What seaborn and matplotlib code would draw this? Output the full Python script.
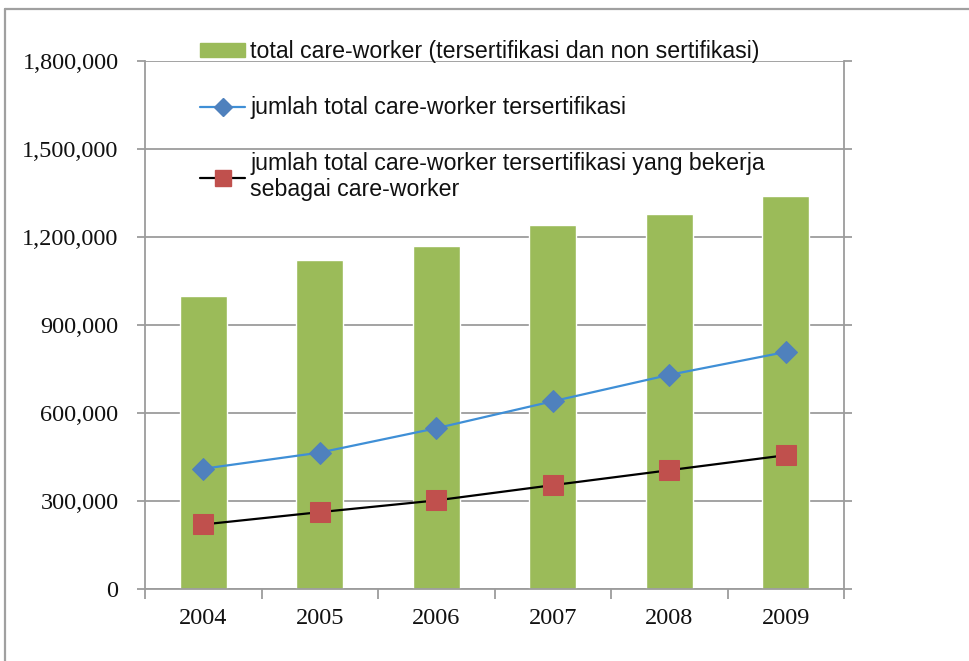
import numpy as np
import pandas as pd
import matplotlib
matplotlib.use("Agg")
import matplotlib.pyplot as plt
from matplotlib.lines import Line2D
from matplotlib.patches import Patch
import seaborn as sns

years = ["2004", "2005", "2006", "2007", "2008", "2009"]
total_workers = [1000000, 1120000, 1170000, 1240000, 1280000, 1340000]
certified = [410000, 465000, 548000, 640000, 730000, 808000]
certified_working = [220000, 262000, 302000, 354000, 405000, 456000]
yticks = [0, 300000, 600000, 900000, 1200000, 1500000, 1800000]

label_bar = "total care-worker (tersertifikasi dan non sertifikasi)"
label_cert = "jumlah total care-worker tersertifikasi"
label_work = "jumlah total care-worker tersertifikasi yang bekerja\nsebagai care-worker"

sns.set_theme(style="white")
plt.rcParams["font.family"] = ["Liberation Sans", "DejaVu Sans"]

GREEN = "#9BBB59"
BLUE = "#4F81BD"
BLUE_LINE = "#3F8FD6"
RED = "#C0504D"
GRID = "#9c9c9c"

fig = plt.figure(figsize=(9.69, 6.61), dpi=100)
ax = fig.add_axes([145 / 969, 1 - 589 / 661, 699 / 969, 528 / 661])

df = pd.DataFrame({"year": years, "total": total_workers,
                   "cert": certified, "work": certified_working})

sns.barplot(data=df, x="year", y="total", color=GREEN, width=0.4,
            saturation=1, ax=ax, zorder=2)
xs = np.arange(len(years))
sns.lineplot(x=xs, y=certified, ax=ax, color=BLUE_LINE, linewidth=1.6,
             marker="D", markersize=11, markerfacecolor=BLUE,
             markeredgecolor=BLUE, zorder=3)
sns.lineplot(x=xs, y=certified_working, ax=ax, color="black", linewidth=1.6,
             marker="s", markersize=15, markerfacecolor=RED,
             markeredgecolor=RED, zorder=3)

ax.set_xlim(-0.5, len(years) - 0.5)
ax.set_ylim(0, 1800000)
ax.set_yticks(yticks)
ax.set_yticklabels([f"{v:,}" for v in yticks])
ax.set_xticks(xs)
ax.set_xticklabels(years)
ax.set_xticks(np.arange(-0.5, len(years), 1.0), minor=True)
ax.set_xlabel("")
ax.set_ylabel("")

ax.yaxis.grid(True, color=GRID, linewidth=1.3, zorder=0)
ax.set_axisbelow(True)
for side in ["left", "right", "bottom"]:
    ax.spines[side].set_visible(True)
    ax.spines[side].set_color(GRID)
    ax.spines[side].set_linewidth(1.3)
ax.spines["top"].set_visible(False)

ax.tick_params(axis="y", which="major", left=True, right=True, direction="out",
               length=6, width=1.3, color=GRID, pad=13,
               labelsize=17.5, labelcolor="#111111")
ax.tick_params(axis="x", which="major", bottom=False, length=0, pad=14,
               labelsize=17.5, labelcolor="#111111")
ax.tick_params(axis="x", which="minor", bottom=True, direction="out",
               length=7, width=1.3, color=GRID)
for lab in ax.get_yticklabels() + ax.get_xticklabels():
    lab.set_fontfamily(["Liberation Serif", "DejaVu Serif"])

handles = [
    Patch(facecolor=GREEN, edgecolor=GREEN),
    Line2D([0], [0], color=BLUE_LINE, linewidth=1.6, marker="D",
           markersize=9, markerfacecolor=BLUE, markeredgecolor=BLUE),
    Line2D([0], [0], color="black", linewidth=1.6, marker="s",
           markersize=11, markerfacecolor=RED, markeredgecolor=RED),
]
leg = ax.legend(handles, [label_bar, label_cert, label_work],
                loc="upper left", bbox_to_anchor=(0.0787, 1.039),
                frameon=False, borderpad=0, borderaxespad=0,
                fontsize=16.7, handlelength=1.95, handleheight=0.55,
                handletextpad=0.22, labelspacing=1.42)
for t in leg.get_texts():
    t.set_color("#111111")
    t.set_linespacing(1.15)

# outer frame of the original chart area
fig.add_artist(Line2D([5 / 969, 1.0], [1 - 9 / 661, 1 - 9 / 661],
                      transform=fig.transFigure, color="#a0a0a0", linewidth=1.6))
fig.add_artist(Line2D([5 / 969, 5 / 969], [0, 1 - 9 / 661],
                      transform=fig.transFigure, color="#a0a0a0", linewidth=1.6))

fig.savefig("out.png", dpi=100, facecolor="white")
